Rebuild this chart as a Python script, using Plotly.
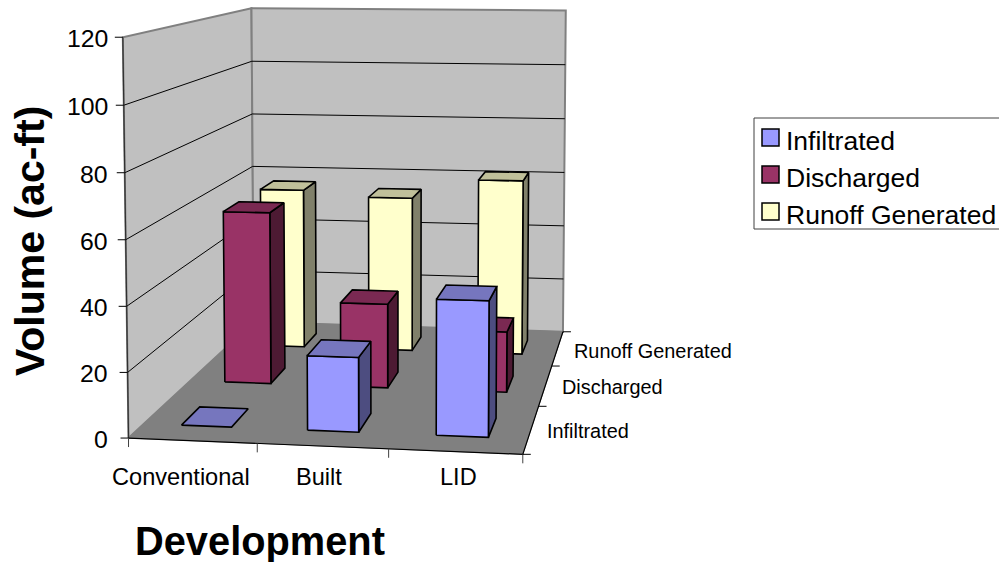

import numpy as np
import plotly.graph_objects as go

# Chart data
categories = ["Conventional", "Built", "LID"]
series_names = ["Infiltrated", "Discharged", "Runoff Generated"]
infiltrated = [0, 23, 41.5]
discharged = [57.5, 28, 20]
runoff_generated = [57, 55, 62]
value_ticks = [0, 20, 40, 60, 80, 100, 120]

FONT = "Liberation Sans, Arial, sans-serif"

# Projective camera for the (category, depth, value) box, all scaled to 0..1
CAMERA = np.array([
    [378.306939, 196.219414, -8.276643, 128.53055],
    [2.403322, -26.10463, -401.598223, 438.048758],
    [-0.030519, 0.279415, -0.020894, 1.0],
])


def project(x, y, z):
    h = CAMERA @ np.array([x / 3, y / 3, z / 120, 1.0])
    return h[0] / h[2], h[1] / h[2]


fig = go.Figure()


def polygon(corners, fill, line_color="black", line_width=1.6):
    xs, ys = zip(*[project(*c) for c in corners])
    fig.add_trace(go.Scatter(
        x=list(xs) + [xs[0]], y=list(ys) + [ys[0]], mode="lines", fill="toself",
        fillcolor=fill, line=dict(color=line_color, width=line_width),
        hoverinfo="skip",
    ))


def polyline(corners, color="black", width=1.0):
    xs, ys = zip(*[project(*c) for c in corners])
    fig.add_trace(go.Scatter(x=xs, y=ys, mode="lines",
                             line=dict(color=color, width=width), hoverinfo="skip"))


def segment(p0, p1, color="black", width=1.0):
    fig.add_trace(go.Scatter(x=[p0[0], p1[0]], y=[p0[1], p1[1]], mode="lines",
                             line=dict(color=color, width=width), hoverinfo="skip"))


# Walls and floor
polygon([(0, 0, 0), (0, 3, 0), (0, 3, 120), (0, 0, 120)], "#C0C0C0", "#808080", 2)
polygon([(0, 3, 0), (3, 3, 0), (3, 3, 120), (0, 3, 120)], "#C0C0C0", "#808080", 2)
polygon([(0, 0, 0), (3, 0, 0), (3, 3, 0), (0, 3, 0)], "#808080", "#808080", 1)

# Gridlines wrap around both walls
for z in value_ticks[1:-1]:
    polyline([(0, 0, z), (0, 3, z), (3, 3, z)])

# Axis lines
polyline([(0, 0, 0), (0, 0, 120)], "#303030", 1.2)
polyline([(0, 0, 0), (3, 0, 0), (3, 3, 0)], "black", 1.2)

# Tick marks
for z in value_ticks:
    px, py = project(0, 0, z)
    segment((px - 8, py), (px, py))
for i in range(4):
    px, py = project(i, 0, 0)
    segment((px, py), (px, py + 9), "#404040")
for j in range(4):
    px, py = project(3, j, 0)
    segment((px, py), (px + 8, py))

# Bars, painted from the back row forward and left to right within a row
rows = [infiltrated, discharged, runoff_generated]
face_colors = [
    ("#9999FF", "#7676BE", "#4D4D80"),
    ("#993366", "#7A2952", "#4D1A33"),
    ("#FFFFCC", "#C0C09A", "#80806A"),
]
for j in (2, 1, 0):
    front, top, side = face_colors[j]
    for i in range(3):
        height = rows[j][i]
        x0, x1, y0, y1 = i + 0.3, i + 0.7, j + 0.3, j + 0.7
        if height > 0:
            polygon([(x1, y0, 0), (x1, y1, 0), (x1, y1, height), (x1, y0, height)], side)
            polygon([(x0, y0, 0), (x1, y0, 0), (x1, y0, height), (x0, y0, height)], front)
        polygon([(x0, y0, height), (x1, y0, height), (x1, y1, height), (x0, y1, height)], top)


def label(x, y, text, size, anchor="center", bold=False, angle=0):
    fig.add_annotation(
        x=x, y=y, text=f"<b>{text}</b>" if bold else text, showarrow=False,
        xanchor=anchor, yanchor="middle", textangle=angle,
        font=dict(family=FONT, size=size, color="black"),
    )


# Value axis labels
for z in value_ticks:
    px, py = project(0, 0, z)
    label(109.5, py + 1.5, str(z), 24.8, "right")

# Category labels
for name, cx in zip(categories, (181, 319, 458)):
    label(cx, 477, name, 23.6)

# Depth labels
for name, left, cy in zip(series_names, (545, 560, 572), (431, 387, 351)):
    label(left, cy, name, 19.9, "left")

# Axis titles
label(30, 241, "Volume (ac-ft)", 41, bold=True, angle=-90)
label(259.5, 541, "Development", 39.8, bold=True)

# Legend
shapes = [dict(type="rect", x0=754, y0=118, x1=1005, y1=229,
               line=dict(color="#404040", width=1), fillcolor="white")]
for name, color, top_edge in zip(series_names, ("#9999FF", "#993366", "#FFFFCC"), (129, 166, 203)):
    shapes.append(dict(type="rect", x0=762, y0=top_edge, x1=779, y1=top_edge + 17,
                       line=dict(color="black", width=1.5), fillcolor=color))
    label(783.5, top_edge + 12, name, 26.5, "left")

fig.update_layout(
    width=999, height=562, margin=dict(l=0, r=0, t=0, b=0), showlegend=False,
    plot_bgcolor="white", paper_bgcolor="white", shapes=shapes,
    xaxis=dict(visible=False, range=[0, 999]),
    yaxis=dict(visible=False, range=[562, 0]),
)
fig.write_html("out.html")
